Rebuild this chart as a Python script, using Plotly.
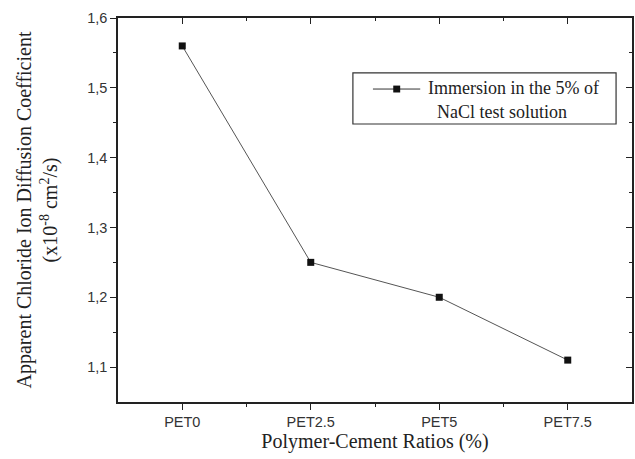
import plotly.graph_objects as go

# Polymer-cement mixes and measured chloride diffusion coefficients
categories = ["PET0", "PET2.5", "PET5", "PET7.5"]
diffusion = [1.56, 1.25, 1.20, 1.11]
y_ticks = [1.1, 1.2, 1.3, 1.4, 1.5, 1.6]
series_label = ["Immersion in the 5% of", "NaCl test solution"]

x_pos = list(range(len(categories)))

INK = "#222222"
SERIF = "Liberation Serif, Times New Roman"

fig = go.Figure()
fig.add_trace(go.Scatter(
    x=x_pos, y=diffusion,
    mode="lines+markers",
    showlegend=False,
    line=dict(color="#555555", width=1),
    marker=dict(symbol="square", size=7, color="#111111"),
))

axis_line = dict(showline=True, linecolor=INK, linewidth=1.5,
                 showgrid=False, zeroline=False)
tick_font = dict(family="Liberation Sans, Arial", size=14.5, color="#333333")

fig.update_layout(
    width=635, height=459,
    margin=dict(l=118, r=3, t=18, b=57),
    paper_bgcolor="white", plot_bgcolor="white",
    separators=",.",
    showlegend=False,
    xaxis=dict(
        **axis_line,
        range=[-0.5, 3.5],
        tickmode="array", tickvals=x_pos, ticktext=categories,
        ticks="outside", ticklen=6, tickwidth=1.2, tickcolor=INK,
        minor=dict(tickvals=[0.5, 1.5, 2.5], ticks="outside", ticklen=3,
                   tickwidth=1, tickcolor=INK),
        tickfont=tick_font,
        title=dict(text="Polymer-Cement Ratios (%)",
                   font=dict(family=SERIF, size=20, color=INK),
                   standoff=4),
    ),
    yaxis=dict(
        **axis_line,
        range=[1.05, 1.6],
        tickmode="array", tickvals=y_ticks, tickformat=".1f",
        ticks="outside", ticklen=6, tickwidth=1.2, tickcolor=INK,
        minor=dict(tickvals=[1.15, 1.25, 1.35, 1.45, 1.55], ticks="outside",
                   ticklen=3, tickwidth=1, tickcolor=INK),
        tickfont=tick_font,
        title=dict(text="Apparent Chloride Ion Diffusion Coefficient<br>(x10<sup>-8</sup> cm<sup>2</sup>/s)",
                   font=dict(family=SERIF, size=20, color=INK),
                   standoff=24),
    ),
    # mirrored frame on top and right with inward ticks
    xaxis2=dict(
        **axis_line, overlaying="x", side="top", matches="x",
        range=[-0.5, 3.5], tickmode="array", tickvals=x_pos,
        ticks="inside", ticklen=6, tickwidth=1.2, tickcolor=INK,
        minor=dict(tickvals=[0.5, 1.5, 2.5], ticks="inside", ticklen=3,
                   tickwidth=1, tickcolor=INK),
        showticklabels=False,
    ),
    yaxis2=dict(
        **axis_line, overlaying="y", side="right",
        range=[1.05, 1.6], tickmode="array", tickvals=y_ticks,
        ticks="inside", ticklen=6, tickwidth=1.2, tickcolor=INK,
        minor=dict(tickvals=[1.15, 1.25, 1.35, 1.45, 1.55], ticks="inside",
                   ticklen=3, tickwidth=1, tickcolor=INK),
        showticklabels=False,
    ),
)

# invisible trace to activate the mirrored axes
fig.add_trace(go.Scatter(x=[None], y=[None], xaxis="x2", yaxis="y2",
                         showlegend=False, hoverinfo="skip"))

# legend box drawn in plot-area fractions
fig.add_shape(type="rect", xref="x domain", yref="y domain",
              x0=0.457, x1=0.969, y0=0.724, y1=0.857,
              line=dict(color="#333333", width=1.2), fillcolor="white", layer="below")
fig.add_shape(type="line", xref="x domain", yref="y domain",
              x0=0.496, x1=0.588, y0=0.815, y1=0.815,
              line=dict(color="#333333", width=1))
fig.add_shape(type="rect", xref="x domain", yref="y domain",
              x0=0.5355, x1=0.549, y0=0.806, y1=0.824,
              line=dict(color="#111111", width=0), fillcolor="#111111")
for text, lx, ly in zip(series_label, [0.599, 0.617], [0.818, 0.755]):
    fig.add_annotation(xref="x domain", yref="y domain", x=lx, y=ly,
                       text=text, showarrow=False, align="left",
                       xanchor="left", yanchor="middle",
                       font=dict(family=SERIF, size=18, color=INK))

fig.write_html("out.html")
